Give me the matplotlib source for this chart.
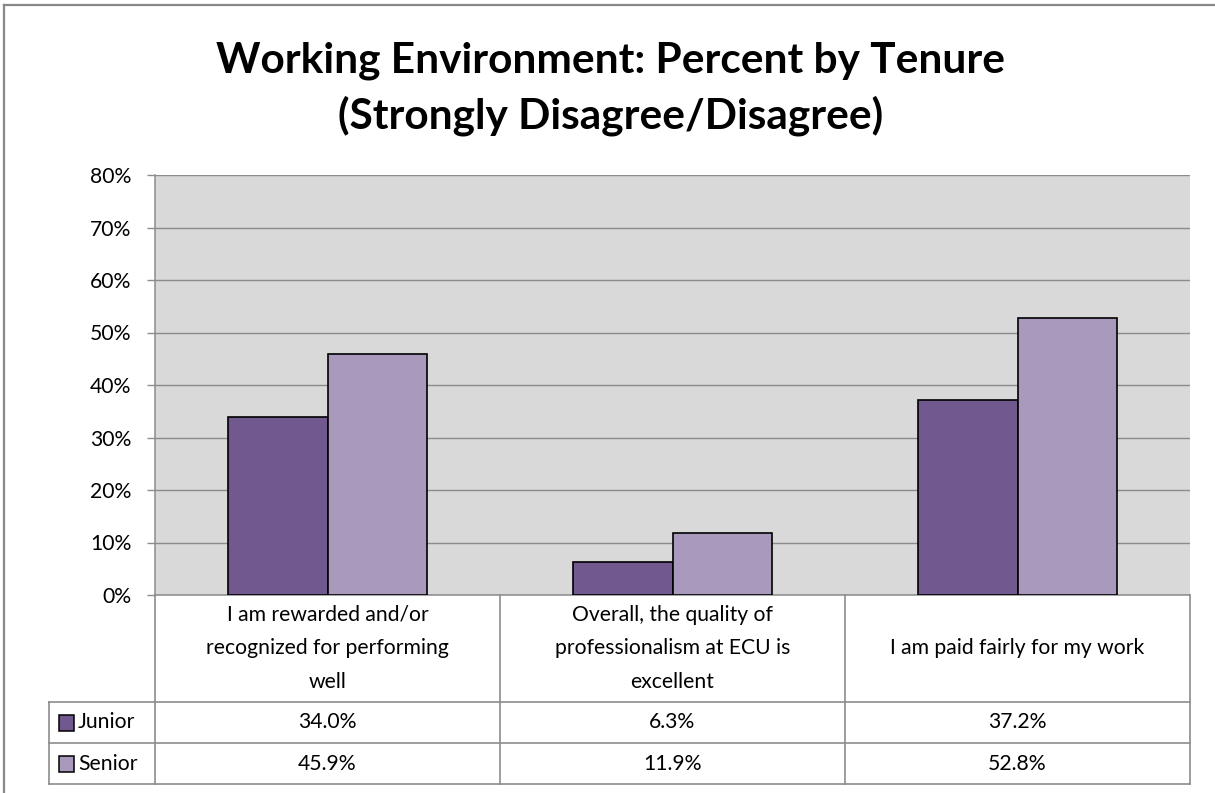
import matplotlib
matplotlib.use("Agg")
import matplotlib.pyplot as plt
from matplotlib.lines import Line2D
from matplotlib.patches import Rectangle
from matplotlib.transforms import blended_transform_factory
from matplotlib.ticker import PercentFormatter

# --- data ---------------------------------------------------------------
categories = [
    "I am rewarded and/or\nrecognized for performing\nwell",
    "Overall, the quality of\nprofessionalism at ECU is\nexcellent",
    "I am paid fairly for my work",
]
series_names = ["Junior", "Senior"]
junior = [34.0, 6.3, 37.2]
senior = [45.9, 11.9, 52.8]
y_ticks = [0, 10, 20, 30, 40, 50, 60, 70, 80]
title_lines = ["Working Environment: Percent by Tenure",
               "(Strongly Disagree/Disagree)"]

# --- style --------------------------------------------------------------
W, H = 1215, 793
FONT = "Lato"
plt.rcParams["font.family"] = [FONT, "DejaVu Sans"]
colors = ["#71588f", "#a99abd"]
grid_c = "#8c8c8c"
line_c = "#8c8c8c"
txt_c = "#000000"
fs = 15.2

fig = plt.figure(figsize=(W / 100, H / 100), dpi=100)
fig.patch.set_facecolor("white")


def fx(px):
    return px / W


def fy(py):
    return 1 - py / H


# plot area (pixel box: x 155..1190, y 175..595)
ax_l, ax_r, ax_t, ax_b = 155, 1190, 175, 595
ax = fig.add_axes([fx(ax_l), fy(ax_b), fx(ax_r - ax_l), (ax_b - ax_t) / H])
ax.set_facecolor("#d9d9d9")

x = list(range(len(categories)))
bw = 0.287
ax.bar([i - bw / 2 for i in x], junior, width=bw, color=colors[0],
       edgecolor="black", linewidth=1.2, zorder=3)
ax.bar([i + bw / 2 for i in x], senior, width=bw, color=colors[1],
       edgecolor="black", linewidth=1.2, zorder=3)

ax.set_xlim(-0.5, len(categories) - 0.5)
ax.set_ylim(0, 80)
ax.set_yticks(y_ticks)
ax.yaxis.set_major_formatter(PercentFormatter(decimals=0))
ax.tick_params(axis="y", length=6, width=1, color=grid_c, pad=11,
               labelsize=fs, labelcolor=txt_c)
ax.set_xticks([])
ax.yaxis.grid(True, color=grid_c, linewidth=1.0, zorder=1)
ax.set_axisbelow(True)
for s in ("top", "right"):
    ax.spines[s].set_visible(False)
ax.spines["left"].set_color(grid_c)
ax.spines["left"].set_linewidth(1.1)
ax.spines["bottom"].set_color(grid_c)
ax.spines["bottom"].set_linewidth(1.1)

# --- data table under the plot -----------------------------------------
tr = blended_transform_factory(ax.transData, ax.transAxes)
span = ax_b - ax_t


def ay(py):
    return (ax_b - py) / span


row_cat_bot = ay(702)
row_j_bot = ay(743)
row_s_bot = ay(784)
x_left_col = -0.5 - (ax_l - 49) / ((ax_r - ax_l) / len(categories))
x_right = len(categories) - 0.5


def tline(xs, ys):
    ax.add_line(Line2D(xs, ys, transform=tr, color=line_c, linewidth=1.2,
                       clip_on=False, zorder=5))


# horizontal rules
for yy in (row_cat_bot, row_j_bot, row_s_bot):
    tline([x_left_col, x_right], [yy, yy])
# vertical rules between categories and at the right edge
for i in range(len(categories) + 1):
    tline([i - 0.5, i - 0.5], [0, row_s_bot])
# left edge of the legend column
tline([x_left_col, x_left_col], [row_cat_bot, row_s_bot])

for i, lab in enumerate(categories):
    ax.text(i, (0 + row_cat_bot) / 2, lab, transform=tr, ha="center",
            va="center", fontsize=fs, color=txt_c, linespacing=1.85,
            clip_on=False)

row_centers = [(row_cat_bot + row_j_bot) / 2, (row_j_bot + row_s_bot) / 2]
for name, vals, c, yc in zip(series_names, [junior, senior], colors,
                             row_centers):
    for i, v in enumerate(vals):
        ax.text(i, yc, f"{v:.1f}%", transform=tr, ha="center", va="center",
                fontsize=fs, color=txt_c, clip_on=False)
    # legend key and series name
    ypx = ax_b - yc * span
    fig.patches.append(Rectangle((fx(58.5), fy(ypx + 8)), fx(15.5), 15.5 / H,
                                 transform=fig.transFigure, facecolor=c,
                                 edgecolor="black", linewidth=1.1))
    fig.text(fx(78), fy(ypx), name, ha="left", va="center", fontsize=fs,
             color=txt_c)

# --- title ---------------------------------------------------------------
fig.text(fx(611), fy(72), title_lines[0], ha="center", va="baseline",
         fontsize=30.5, fontweight="bold", color="black")
fig.text(fx(611), fy(128), title_lines[1], ha="center", va="baseline",
         fontsize=30.5, fontweight="bold", color="black")

# --- outer frame (top and left edges) ----------------------------------
fig.lines.append(Line2D([fx(3.5), 1.0], [fy(4.5), fy(4.5)],
                        transform=fig.transFigure, color="#888888",
                        linewidth=1.6))
fig.lines.append(Line2D([fx(3.5), fx(3.5)], [fy(4.5), 0.0],
                        transform=fig.transFigure, color="#888888",
                        linewidth=1.6))

fig.savefig("out.png", dpi=100, facecolor="white")
